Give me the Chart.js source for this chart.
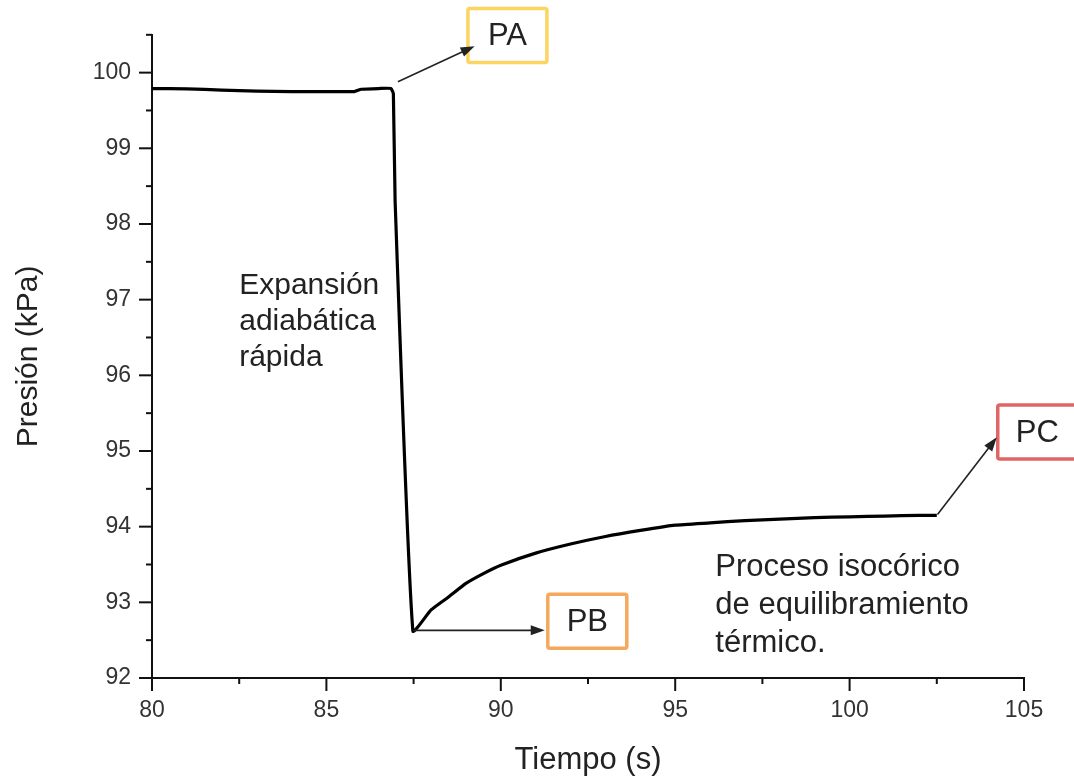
<!DOCTYPE html>
<html><head><meta charset="utf-8">
<script src="https://cdn.jsdelivr.net/npm/chart.js@4.4.1/dist/chart.umd.min.js"></script>
<style>html,body{margin:0;padding:0;background:#fff;}#wrap{width:1074px;height:780px;position:relative;}</style>
</head><body><div id="wrap"><canvas id="c" width="1074" height="780"></canvas></div>
<script>
const tiempo = [80, 81, 82, 83, 84, 85, 85.8, 86.0, 86.5, 86.85, 86.92, 86.97, 87.48, 88, 88.5, 89, 89.5, 90, 91, 92, 93, 94, 95, 96, 97, 98, 99, 100, 101, 102, 102.5];
const presion = [99.79, 99.785, 99.77, 99.755, 99.75, 99.75, 99.75, 99.78, 99.79, 99.79, 99.72, 98.3, 92.62, 92.9, 93.07, 93.25, 93.38, 93.49, 93.65, 93.77, 93.87, 93.95, 94.02, 94.05, 94.08, 94.10, 94.12, 94.13, 94.14, 94.15, 94.15];
const xTicks = [80, 85, 90, 95, 100, 105];
const yTicks = [92, 93, 94, 95, 96, 97, 98, 99, 100];
const xLabel = 'Tiempo (s)';
const yLabel = 'Presión (kPa)';
const boxLabels = ['PA', 'PB', 'PC'];
const textLines1 = ['Expansión', 'adiabática', 'rápida'];
const textLines2 = ['Proceso isocórico', 'de equilibramiento', 'térmico.'];

const boxStyle = [
  {cx: 90.19, cy: 100.49, color: '#fcd462', from: [87.05, 99.88], to: [89.25, 100.35]},
  {cx: 92.48, cy: 92.75, color: '#f6a85c', from: [87.5, 92.63], to: [91.26, 92.63]},
  {cx: 105.38, cy: 95.25, color: '#e06666', from: [102.52, 94.16], to: [104.22, 95.18]}
];
const textStyle = [
  {lines: textLines1, x: 82.5, y: 97.07, size: 30, gap: 36},
  {lines: textLines2, x: 96.15, y: 93.35, size: 31, gap: 38}
];

const data = tiempo.map((t, i) => ({x: t, y: presion[i]}));
const FONT = '"Liberation Sans", Arial, sans-serif';

const annot = {
  id: 'annot',
  afterDatasetsDraw(chart) {
    const ctx = chart.ctx, xs = chart.scales.x, ys = chart.scales.y;
    ctx.save();
    ctx.strokeStyle = '#111'; ctx.lineWidth = 2;
    const x0 = xs.left, yb = ys.bottom;
    for (let v = 80; v <= 105.001; v += 2.5) {
      const px = xs.getPixelForValue(v), major = Math.abs(v % 5) < 1e-6;
      ctx.beginPath(); ctx.moveTo(px, yb); ctx.lineTo(px, yb + (major ? 13 : 6)); ctx.stroke();
    }
    for (let v = 92; v <= 100.501; v += 0.5) {
      const py = ys.getPixelForValue(v), major = Math.abs(v % 1) < 1e-6;
      ctx.beginPath(); ctx.moveTo(x0, py); ctx.lineTo(x0 - (major ? 13 : 6), py); ctx.stroke();
    }
    boxStyle.forEach((n, i) => {
      const cx = xs.getPixelForValue(n.cx), cy = ys.getPixelForValue(n.cy);
      const bw = 79, bh = 54;
      ctx.fillStyle = '#fff';
      ctx.fillRect(cx - bw / 2, cy - bh / 2, bw, bh);
      ctx.strokeStyle = n.color; ctx.lineWidth = 3.5;
      ctx.beginPath(); ctx.roundRect(cx - bw / 2, cy - bh / 2, bw, bh, 2); ctx.stroke();
      ctx.fillStyle = '#222'; ctx.font = '31px ' + FONT;
      ctx.textAlign = 'center'; ctx.textBaseline = 'middle';
      ctx.fillText(boxLabels[i], cx, cy + 1);
      const fx = xs.getPixelForValue(n.from[0]), fy = ys.getPixelForValue(n.from[1]);
      const tx = xs.getPixelForValue(n.to[0]), ty = ys.getPixelForValue(n.to[1]);
      ctx.strokeStyle = '#222'; ctx.fillStyle = '#222'; ctx.lineWidth = 1.6;
      const a = Math.atan2(ty - fy, tx - fx), L = 14, W = 5;
      ctx.beginPath(); ctx.moveTo(fx, fy); ctx.lineTo(tx - 8 * Math.cos(a), ty - 8 * Math.sin(a)); ctx.stroke();
      ctx.beginPath();
      ctx.moveTo(tx, ty);
      ctx.lineTo(tx - L * Math.cos(a) + W * Math.sin(a), ty - L * Math.sin(a) - W * Math.cos(a));
      ctx.lineTo(tx - L * Math.cos(a) - W * Math.sin(a), ty - L * Math.sin(a) + W * Math.cos(a));
      ctx.closePath(); ctx.fill();
    });
    ctx.fillStyle = '#222';
    ctx.textAlign = 'left'; ctx.textBaseline = 'alphabetic';
    textStyle.forEach(t => {
      ctx.font = t.size + 'px ' + FONT;
      const px = xs.getPixelForValue(t.x), py = ys.getPixelForValue(t.y);
      t.lines.forEach((s, i) => ctx.fillText(s, px, py + i * t.gap));
    });
    ctx.restore();
  }
};

new Chart(document.getElementById('c'), {
  type: 'scatter',
  data: {datasets: [{data, showLine: true, borderColor: '#000', borderWidth: 3.2, pointRadius: 0, tension: 0.15, fill: false}]},
  options: {
    responsive: false, animation: false,
    layout: {padding: {left: 10, right: 50, top: 33, bottom: 0}},
    plugins: {legend: {display: false}, tooltip: {enabled: false}},
    scales: {
      x: {
        type: 'linear', min: 80, max: 105,
        afterBuildTicks: s => { s.ticks = xTicks.map(v => ({value: v})); },
        afterFit: s => { s.height = 780 - 678; },
        grid: {display: false, drawTicks: false},
        border: {display: true, color: '#111', width: 2},
        ticks: {padding: 19, color: '#333', font: {family: FONT, size: 23}, maxRotation: 0},
        title: {display: true, text: xLabel, color: '#222', font: {family: FONT, size: 31}, padding: {top: 0, bottom: 1}}
      },
      y: {
        type: 'linear', min: 92, max: 100.5,
        afterBuildTicks: s => { s.ticks = yTicks.map(v => ({value: v})); },
        afterFit: s => { s.width = 152 - 10; },
        grid: {display: false, drawTicks: false},
        border: {display: true, color: '#111', width: 2},
        ticks: {padding: 21, color: '#333', font: {family: FONT, size: 23}},
        title: {display: true, text: yLabel, color: '#222', font: {family: FONT, size: 30}, padding: {top: 1, bottom: 0}}
      }
    }
  },
  plugins: [annot]
});
</script></body></html>
